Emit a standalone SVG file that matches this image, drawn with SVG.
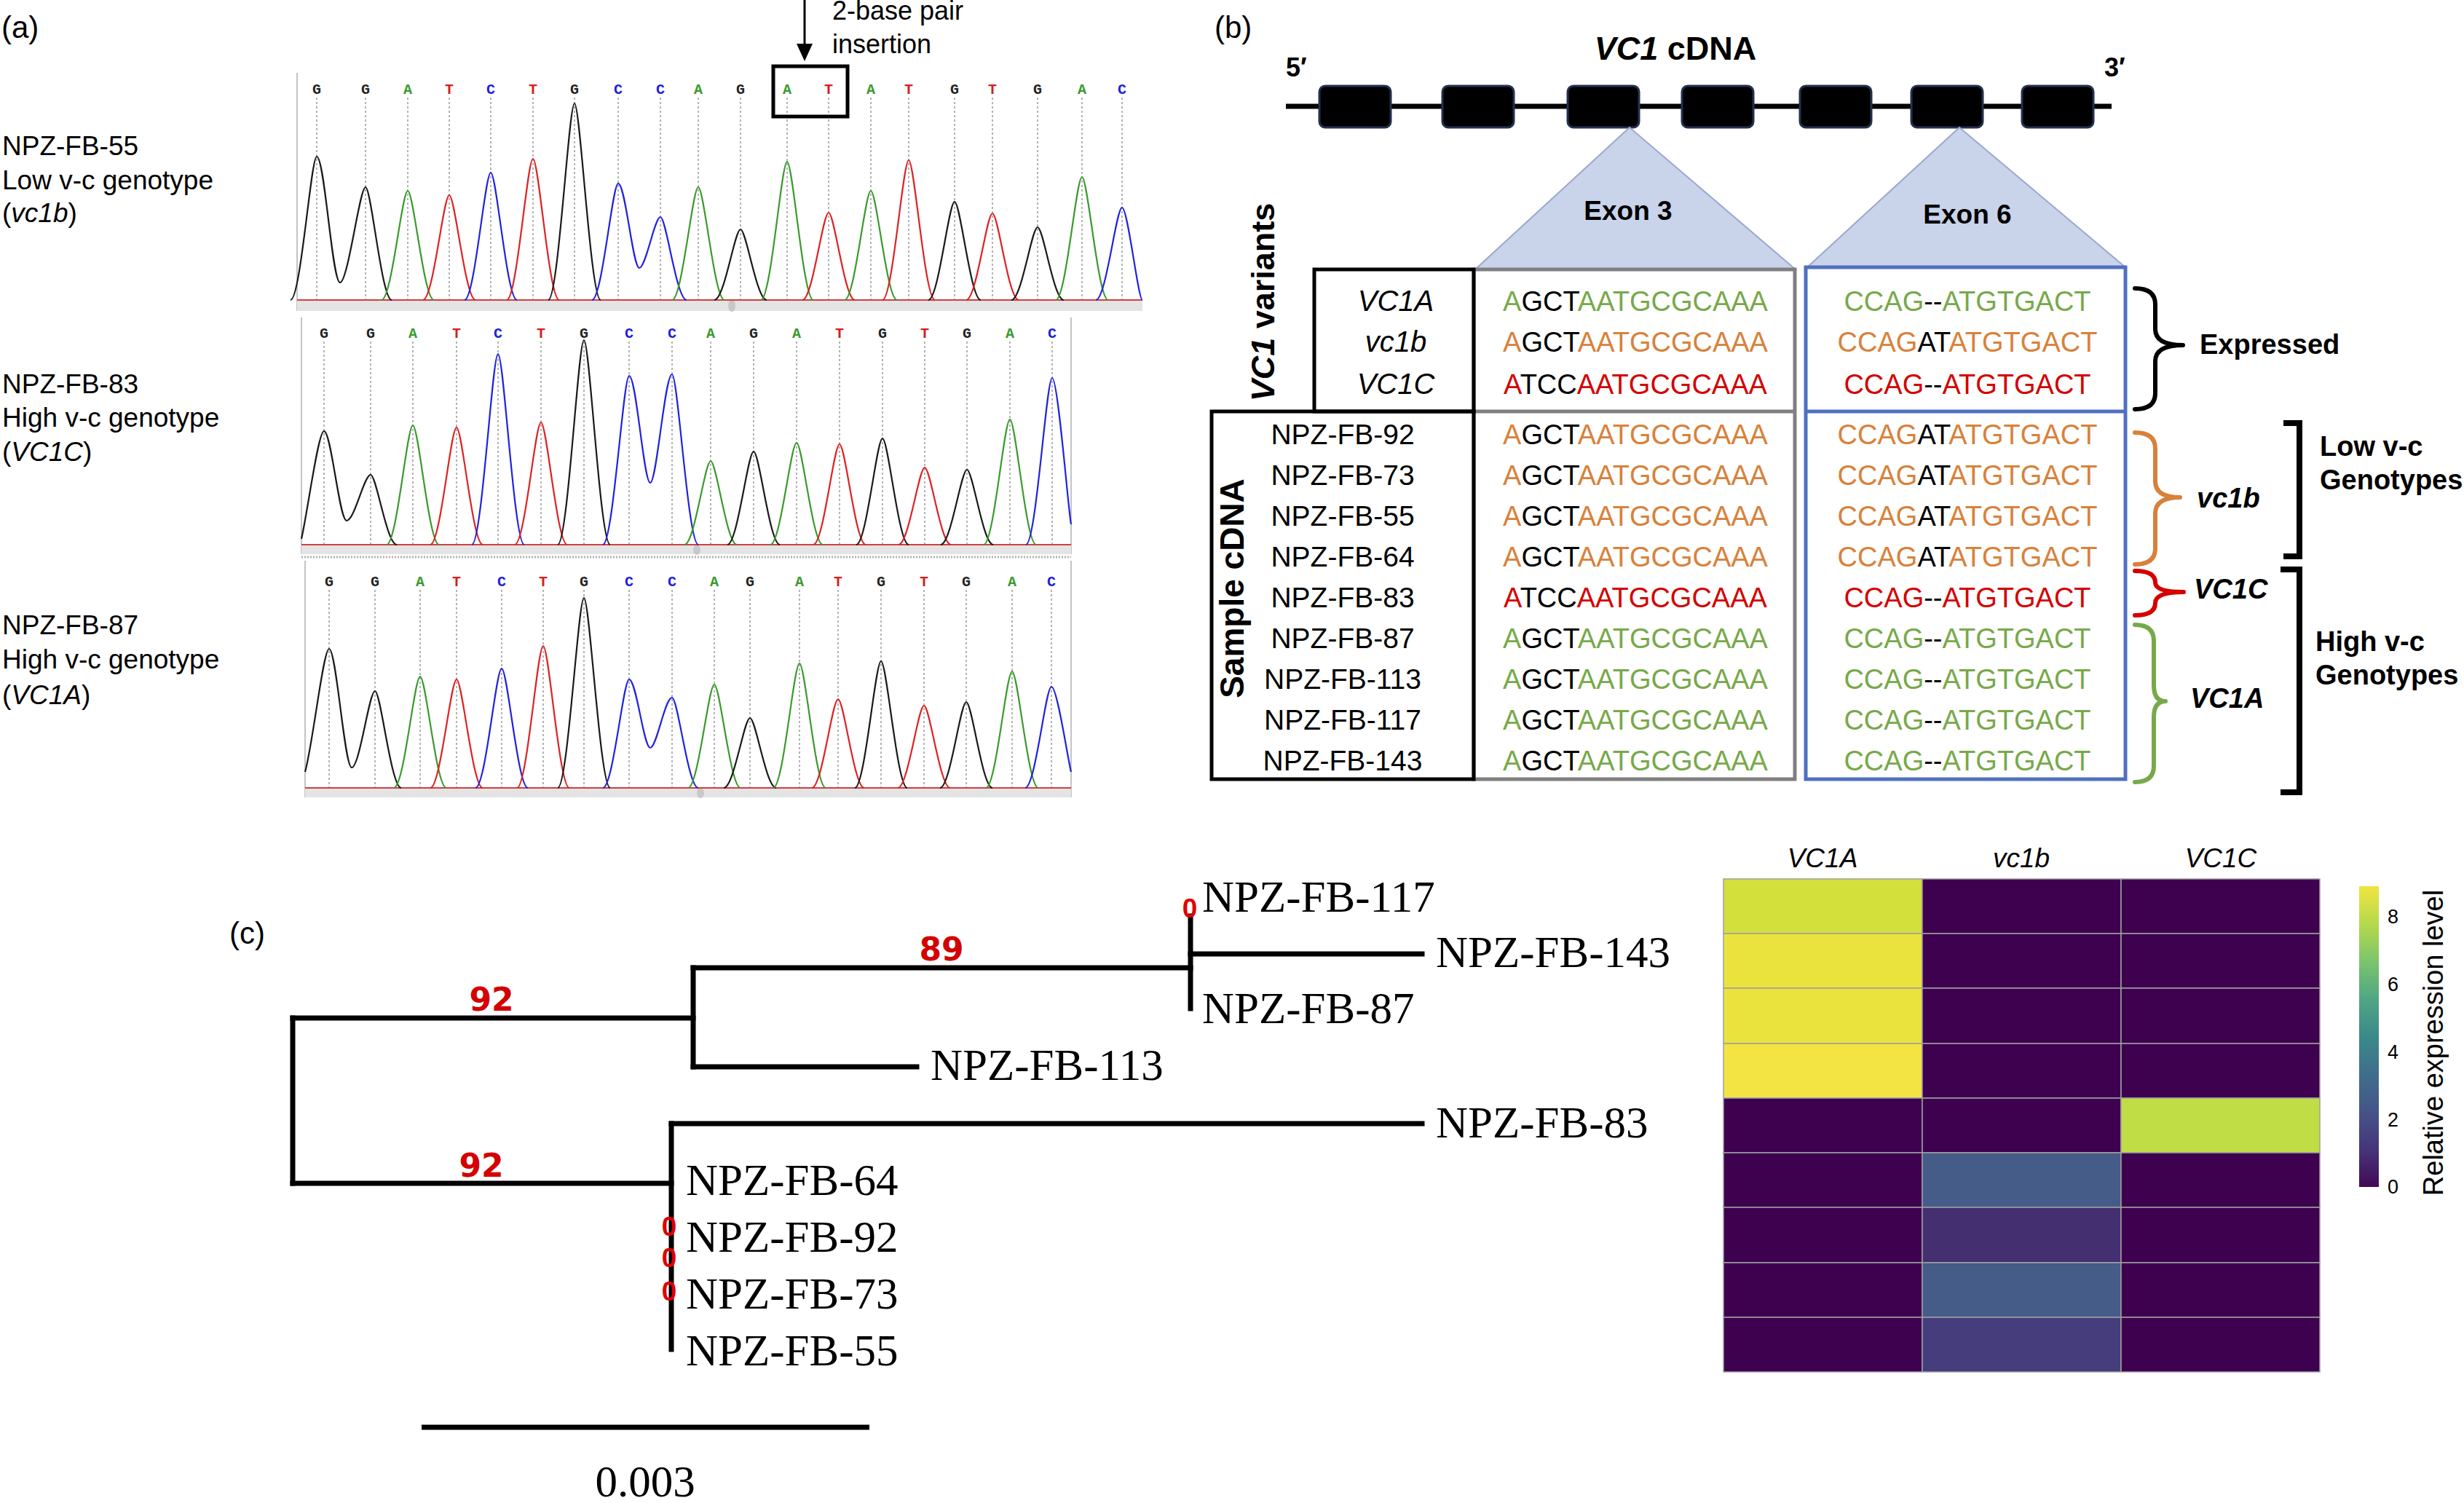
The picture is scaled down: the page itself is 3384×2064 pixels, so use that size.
<svg xmlns="http://www.w3.org/2000/svg" width="3384" height="2064" viewBox="0 0 3384 2064">
<style>
.sans{font-family:"Liberation Sans",Arial,sans-serif}
.lab{font-family:"Liberation Sans",Arial,sans-serif;font-size:37px;fill:#000}
.pl{font-family:"Liberation Sans",Arial,sans-serif;font-size:42px;fill:#000}
.base{font-family:"Liberation Mono","Courier New",monospace;font-weight:bold;font-size:20px;text-anchor:middle}
.bG{fill:#222}.bA{fill:#3a9a2e}.bT{fill:#d42020}.bC{fill:#2020d8}
.tr{fill:none;stroke-width:2.2;stroke-linejoin:round}
.tG{stroke:#1a1a1a}.tA{stroke:#3a9a2e}.tT{stroke:#dd2222}.tC{stroke:#2222dd}
.dash{stroke:#9a9a9a;stroke-width:1.5;stroke-dasharray:3,3}
.frame{stroke:#b0b0b0;stroke-width:1.5}
.bar{fill:#e4e4e4}
.seq{font-family:"Liberation Sans",Arial,sans-serif;font-size:38px;text-anchor:middle}
.g{fill:#77a94a}.o{fill:#d8813a}.r{fill:#d40000}.k{fill:#000}
.nm{font-family:"Liberation Sans",Arial,sans-serif;font-size:39px;text-anchor:middle}
.vn{font-family:"Liberation Sans",Arial,sans-serif;font-size:40px;font-style:italic;text-anchor:middle}
.bl{font-family:"Liberation Sans",Arial,sans-serif;font-size:38px;font-weight:bold}
.brace{fill:none;stroke-width:6;stroke-linecap:round;stroke-linejoin:round}
.tl{font-family:"Liberation Serif","Times New Roman",serif;font-size:61px;fill:#000}
.bs{font-family:"DejaVu Sans",sans-serif;font-weight:bold;font-size:44px;fill:#d40000;text-anchor:middle}
.zero{font-family:"Liberation Sans",Arial,sans-serif;font-weight:bold;font-size:37px;fill:#e00000;text-anchor:middle}
.br{fill:none;stroke:#000;stroke-width:7;stroke-linecap:square}
.D{fill:#3e014f}
.cell{stroke:#a0a0a0;stroke-width:1.5}
</style>
<defs>
<linearGradient id="vir" x1="0" y1="1" x2="0" y2="0">
<stop offset="0" stop-color="#420a55"/>
<stop offset="0.125" stop-color="#46357a"/>
<stop offset="0.25" stop-color="#455488"/>
<stop offset="0.375" stop-color="#3f6e8b"/>
<stop offset="0.5" stop-color="#3a8a8a"/>
<stop offset="0.625" stop-color="#4fa684"/>
<stop offset="0.75" stop-color="#7cc46c"/>
<stop offset="0.875" stop-color="#b5d94a"/>
<stop offset="1" stop-color="#f0e442"/>
</linearGradient>
</defs>
<rect width="3384" height="2064" fill="#fff"/>

<!-- Panel a -->
<g id="panel-a">
<text class="pl" x="2" y="52">(a)</text>
<g id="insertion-arrow">
<line x1="1105" y1="0" x2="1105" y2="64" stroke="#000" stroke-width="3"/>
<polygon points="1094,60 1116,60 1105,84" fill="#000"/>
<text class="sans" x="1143" y="27" font-size="36">2-base pair</text>
<text class="sans" x="1143" y="73" font-size="36">insertion</text>
</g>

<g id="chrom-1">
<text class="lab" x="3" y="213">NPZ-FB-55</text>
<text class="lab" x="3" y="260">Low v-c genotype</text>
<text class="lab" x="3" y="305">(<tspan font-style="italic">vc1b</tspan>)</text>
<line class="frame" x1="408" y1="100" x2="408" y2="427"/>
<rect class="bar" x="408" y="413" width="1161" height="14"/>
<ellipse cx="1005" cy="420" rx="5" ry="8" fill="#c8c8c8"/>
<g>
<line class="dash" x1="435" y1="134" x2="435" y2="412"/><line class="dash" x1="502" y1="134" x2="502" y2="412"/><line class="dash" x1="560" y1="134" x2="560" y2="412"/><line class="dash" x1="617" y1="134" x2="617" y2="412"/><line class="dash" x1="674" y1="134" x2="674" y2="412"/><line class="dash" x1="732" y1="134" x2="732" y2="412"/><line class="dash" x1="789" y1="134" x2="789" y2="412"/><line class="dash" x1="849" y1="134" x2="849" y2="412"/><line class="dash" x1="907" y1="134" x2="907" y2="412"/><line class="dash" x1="959" y1="134" x2="959" y2="412"/><line class="dash" x1="1017" y1="134" x2="1017" y2="412"/><line class="dash" x1="1081" y1="134" x2="1081" y2="412"/><line class="dash" x1="1138" y1="134" x2="1138" y2="412"/><line class="dash" x1="1196" y1="134" x2="1196" y2="412"/><line class="dash" x1="1248" y1="134" x2="1248" y2="412"/><line class="dash" x1="1311" y1="134" x2="1311" y2="412"/><line class="dash" x1="1363" y1="134" x2="1363" y2="412"/><line class="dash" x1="1425" y1="134" x2="1425" y2="412"/><line class="dash" x1="1486" y1="134" x2="1486" y2="412"/><line class="dash" x1="1541" y1="134" x2="1541" y2="412"/>
</g>
<g>
<text class="base bG" x="435" y="129">G</text><text class="base bG" x="502" y="129">G</text><text class="base bA" x="560" y="129">A</text><text class="base bT" x="617" y="129">T</text><text class="base bC" x="674" y="129">C</text><text class="base bT" x="732" y="129">T</text><text class="base bG" x="789" y="129">G</text><text class="base bC" x="849" y="129">C</text><text class="base bC" x="907" y="129">C</text><text class="base bA" x="959" y="129">A</text><text class="base bG" x="1017" y="129">G</text><text class="base bA" x="1081" y="129">A</text><text class="base bT" x="1138" y="129">T</text><text class="base bA" x="1196" y="129">A</text><text class="base bT" x="1248" y="129">T</text><text class="base bG" x="1311" y="129">G</text><text class="base bT" x="1363" y="129">T</text><text class="base bG" x="1425" y="129">G</text><text class="base bA" x="1486" y="129">A</text><text class="base bC" x="1541" y="129">C</text>
</g>
<line x1="408" y1="412" x2="1569" y2="412" stroke="#d04040" stroke-width="2"/>
<g>
<path class="tr tG" d="M399,412 C413,412 427,215 435,215 C446,215 456,388 467,388 C478,388 494,257 502,257 C510,257 524,412 538,412"/>
<path class="tr tA" d="M524,412 C538,412 552,262 560,262 C568,262 582,412 596,412"/>
<path class="tr tT" d="M581,412 C595,412 609,268 617,268 C625,268 639,412 653,412"/>
<path class="tr tC" d="M638,412 C652,412 666,237 674,237 C682,237 696,412 710,412"/>
<path class="tr tT" d="M696,412 C710,412 724,218 732,218 C740,218 754,412 768,412"/>
<path class="tr tG" d="M753,412 C767,412 781,142 789,142 C797,142 811,412 825,412"/>
<path class="tr tC" d="M813,412 C827,412 841,252 849,252 C859,252 869,368 878,368 C887,368 899,298 907,298 C915,298 929,412 943,412"/>
<path class="tr tA" d="M923,412 C937,412 951,257 959,257 C967,257 981,412 995,412"/>
<path class="tr tG" d="M981,412 C995,412 1009,315 1017,315 C1025,315 1039,412 1053,412"/>
<path class="tr tA" d="M1045,412 C1059,412 1073,222 1081,222 C1089,222 1103,412 1117,412"/>
<path class="tr tT" d="M1102,412 C1116,412 1130,292 1138,292 C1146,292 1160,412 1174,412"/>
<path class="tr tA" d="M1160,412 C1174,412 1188,262 1196,262 C1204,262 1218,412 1232,412"/>
<path class="tr tT" d="M1212,412 C1226,412 1240,220 1248,220 C1256,220 1270,412 1284,412"/>
<path class="tr tG" d="M1275,412 C1289,412 1303,277 1311,277 C1319,277 1333,412 1347,412"/>
<path class="tr tT" d="M1327,412 C1341,412 1355,293 1363,293 C1371,293 1385,412 1399,412"/>
<path class="tr tG" d="M1389,412 C1403,412 1417,312 1425,312 C1433,312 1447,412 1461,412"/>
<path class="tr tA" d="M1450,412 C1464,412 1478,243 1486,243 C1494,243 1508,412 1522,412"/>
<path class="tr tC" d="M1505,412 C1519,412 1533,285 1541,285 C1549,285 1563,412 1569,412"/>
</g>
<rect x="1062" y="91" width="102" height="69" fill="none" stroke="#000" stroke-width="5"/>
</g>

<g id="chrom-2">
<text class="lab" x="3" y="540">NPZ-FB-83</text>
<text class="lab" x="3" y="586">High v-c genotype</text>
<text class="lab" x="3" y="633">(<tspan font-style="italic">VC1C</tspan>)</text>
<line class="frame" x1="414" y1="436" x2="414" y2="761"/>
<line class="frame" x1="1471" y1="436" x2="1471" y2="761"/>
<rect class="bar" x="414" y="749" width="1057" height="12"/>
<line x1="414" y1="765" x2="1471" y2="765" stroke="#b0b0b0" stroke-width="3" stroke-dasharray="2,2"/>
<ellipse cx="957" cy="755" rx="5" ry="7" fill="#c8c8c8"/>
<g>
<line class="dash" x1="445" y1="469" x2="445" y2="748"/><line class="dash" x1="509" y1="469" x2="509" y2="748"/><line class="dash" x1="567" y1="469" x2="567" y2="748"/><line class="dash" x1="627" y1="469" x2="627" y2="748"/><line class="dash" x1="684" y1="469" x2="684" y2="748"/><line class="dash" x1="743" y1="469" x2="743" y2="748"/><line class="dash" x1="802" y1="469" x2="802" y2="748"/><line class="dash" x1="864" y1="469" x2="864" y2="748"/><line class="dash" x1="923" y1="469" x2="923" y2="748"/><line class="dash" x1="976" y1="469" x2="976" y2="748"/><line class="dash" x1="1035" y1="469" x2="1035" y2="748"/><line class="dash" x1="1094" y1="469" x2="1094" y2="748"/><line class="dash" x1="1153" y1="469" x2="1153" y2="748"/><line class="dash" x1="1212" y1="469" x2="1212" y2="748"/><line class="dash" x1="1270" y1="469" x2="1270" y2="748"/><line class="dash" x1="1328" y1="469" x2="1328" y2="748"/><line class="dash" x1="1387" y1="469" x2="1387" y2="748"/><line class="dash" x1="1445" y1="469" x2="1445" y2="748"/>
</g>
<g>
<text class="base bG" x="445" y="464">G</text><text class="base bG" x="509" y="464">G</text><text class="base bA" x="567" y="464">A</text><text class="base bT" x="627" y="464">T</text><text class="base bC" x="684" y="464">C</text><text class="base bT" x="743" y="464">T</text><text class="base bG" x="802" y="464">G</text><text class="base bC" x="864" y="464">C</text><text class="base bC" x="923" y="464">C</text><text class="base bA" x="976" y="464">A</text><text class="base bG" x="1035" y="464">G</text><text class="base bA" x="1094" y="464">A</text><text class="base bT" x="1153" y="464">T</text><text class="base bG" x="1212" y="464">G</text><text class="base bT" x="1270" y="464">T</text><text class="base bG" x="1328" y="464">G</text><text class="base bA" x="1387" y="464">A</text><text class="base bC" x="1445" y="464">C</text>
</g>
<line x1="414" y1="748" x2="1471" y2="748" stroke="#d04040" stroke-width="2"/>
<g>
<path class="tr tG" d="M414,740 C423,700 437,592 445,592 C455,592 466,715 476,715 C487,715 500,652 509,652 C517,652 531,748 545,748"/>
<path class="tr tA" d="M531,748 C545,748 559,584 567,584 C575,584 589,748 603,748"/>
<path class="tr tT" d="M591,748 C605,748 619,587 627,587 C635,587 649,748 663,748"/>
<path class="tr tC" d="M648,748 C662,748 676,486 684,486 C692,486 706,748 720,748"/>
<path class="tr tT" d="M707,748 C721,748 735,580 743,580 C751,580 765,748 779,748"/>
<path class="tr tG" d="M766,748 C780,748 794,467 802,467 C810,467 824,748 838,748"/>
<path class="tr tC" d="M828,748 C842,748 856,516 864,516 C874,516 884,663 893,663 C902,663 913,514 923,514 C931,514 945,748 959,748"/>
<path class="tr tA" d="M940,748 C954,748 968,633 976,633 C984,633 998,748 1012,748"/>
<path class="tr tG" d="M999,748 C1013,748 1027,620 1035,620 C1043,620 1057,748 1071,748"/>
<path class="tr tA" d="M1058,748 C1072,748 1086,608 1094,608 C1102,608 1116,748 1130,748"/>
<path class="tr tT" d="M1117,748 C1131,748 1145,610 1153,610 C1161,610 1175,748 1189,748"/>
<path class="tr tG" d="M1176,748 C1190,748 1204,602 1212,602 C1220,602 1234,748 1248,748"/>
<path class="tr tT" d="M1234,748 C1248,748 1262,642 1270,642 C1278,642 1292,748 1306,748"/>
<path class="tr tG" d="M1292,748 C1306,748 1320,645 1328,645 C1336,645 1350,748 1364,748"/>
<path class="tr tA" d="M1351,748 C1365,748 1379,576 1387,576 C1395,576 1409,748 1423,748"/>
<path class="tr tC" d="M1409,748 C1423,748 1437,519 1445,519 C1453,519 1467,700 1471,720"/>
</g>
</g>

<g id="chrom-3">
<text class="lab" x="3" y="871">NPZ-FB-87</text>
<text class="lab" x="3" y="918">High v-c genotype</text>
<text class="lab" x="3" y="967">(<tspan font-style="italic">VC1A</tspan>)</text>
<line class="frame" x1="419" y1="770" x2="419" y2="1095"/>
<line class="frame" x1="1471" y1="770" x2="1471" y2="1095"/>
<rect class="bar" x="419" y="1083" width="1052" height="12"/>
<ellipse cx="962" cy="1089" rx="5" ry="7" fill="#c8c8c8"/>
<g>
<line class="dash" x1="452" y1="810" x2="452" y2="1082"/><line class="dash" x1="515" y1="810" x2="515" y2="1082"/><line class="dash" x1="577" y1="810" x2="577" y2="1082"/><line class="dash" x1="627" y1="810" x2="627" y2="1082"/><line class="dash" x1="689" y1="810" x2="689" y2="1082"/><line class="dash" x1="746" y1="810" x2="746" y2="1082"/><line class="dash" x1="802" y1="810" x2="802" y2="1082"/><line class="dash" x1="864" y1="810" x2="864" y2="1082"/><line class="dash" x1="923" y1="810" x2="923" y2="1082"/><line class="dash" x1="981" y1="810" x2="981" y2="1082"/><line class="dash" x1="1030" y1="810" x2="1030" y2="1082"/><line class="dash" x1="1098" y1="810" x2="1098" y2="1082"/><line class="dash" x1="1151" y1="810" x2="1151" y2="1082"/><line class="dash" x1="1210" y1="810" x2="1210" y2="1082"/><line class="dash" x1="1269" y1="810" x2="1269" y2="1082"/><line class="dash" x1="1327" y1="810" x2="1327" y2="1082"/><line class="dash" x1="1390" y1="810" x2="1390" y2="1082"/><line class="dash" x1="1444" y1="810" x2="1444" y2="1082"/>
</g>
<g>
<text class="base bG" x="452" y="805">G</text><text class="base bG" x="515" y="805">G</text><text class="base bA" x="577" y="805">A</text><text class="base bT" x="627" y="805">T</text><text class="base bC" x="689" y="805">C</text><text class="base bT" x="746" y="805">T</text><text class="base bG" x="802" y="805">G</text><text class="base bC" x="864" y="805">C</text><text class="base bC" x="923" y="805">C</text><text class="base bA" x="981" y="805">A</text><text class="base bG" x="1030" y="805">G</text><text class="base bA" x="1098" y="805">A</text><text class="base bT" x="1151" y="805">T</text><text class="base bG" x="1210" y="805">G</text><text class="base bT" x="1269" y="805">T</text><text class="base bG" x="1327" y="805">G</text><text class="base bA" x="1390" y="805">A</text><text class="base bC" x="1444" y="805">C</text>
</g>
<line x1="419" y1="1082" x2="1471" y2="1082" stroke="#d04040" stroke-width="2"/>
<g>
<path class="tr tG" d="M419,1060 C430,1020 444,891 452,891 C462,891 473,1054 483,1054 C494,1054 507,949 515,949 C523,949 537,1082 551,1082"/>
<path class="tr tA" d="M541,1082 C555,1082 569,929 577,929 C585,929 599,1082 613,1082"/>
<path class="tr tT" d="M591,1082 C605,1082 619,933 627,933 C635,933 649,1082 663,1082"/>
<path class="tr tC" d="M653,1082 C667,1082 681,918 689,918 C697,918 711,1082 725,1082"/>
<path class="tr tT" d="M710,1082 C724,1082 738,887 746,887 C754,887 768,1082 782,1082"/>
<path class="tr tG" d="M766,1082 C780,1082 794,821 802,821 C810,821 824,1082 838,1082"/>
<path class="tr tC" d="M828,1082 C842,1082 856,933 864,933 C874,933 884,1027 893,1027 C902,1027 913,958 923,958 C931,958 945,1082 959,1082"/>
<path class="tr tA" d="M945,1082 C959,1082 973,940 981,940 C989,940 1003,1082 1017,1082"/>
<path class="tr tG" d="M994,1082 C1008,1082 1022,986 1030,986 C1038,986 1052,1082 1066,1082"/>
<path class="tr tA" d="M1062,1082 C1076,1082 1090,911 1098,911 C1106,911 1120,1082 1134,1082"/>
<path class="tr tT" d="M1115,1082 C1129,1082 1143,960 1151,960 C1159,960 1173,1082 1187,1082"/>
<path class="tr tG" d="M1174,1082 C1188,1082 1202,908 1210,908 C1218,908 1232,1082 1246,1082"/>
<path class="tr tT" d="M1233,1082 C1247,1082 1261,969 1269,969 C1277,969 1291,1082 1305,1082"/>
<path class="tr tG" d="M1291,1082 C1305,1082 1319,964 1327,964 C1335,964 1349,1082 1363,1082"/>
<path class="tr tA" d="M1354,1082 C1368,1082 1382,922 1390,922 C1398,922 1412,1082 1426,1082"/>
<path class="tr tC" d="M1408,1082 C1422,1082 1436,943 1444,943 C1452,943 1466,1040 1471,1060"/>
</g>
</g>
</g>

<!-- Panel b -->
<g id="panel-b">
<text class="pl" x="1668" y="52">(b)</text>
<g id="gene-model">
<text class="sans" x="2301" y="82" font-size="45" font-weight="bold" text-anchor="middle"><tspan font-style="italic">VC1</tspan> cDNA</text>
<text class="sans" x="1766" y="105" font-size="36" font-weight="bold">5′</text>
<text class="sans" x="2890" y="105" font-size="36" font-weight="bold">3′</text>
<line x1="1766" y1="146" x2="2900" y2="146" stroke="#000" stroke-width="7"/>
<g fill="#000" stroke="#243050" stroke-width="3">
<rect x="1812" y="118" width="98" height="57" rx="8"/>
<rect x="1981" y="118" width="98" height="57" rx="8"/>
<rect x="2153" y="118" width="98" height="57" rx="8"/>
<rect x="2310" y="118" width="98" height="57" rx="8"/>
<rect x="2472" y="118" width="98" height="57" rx="8"/>
<rect x="2625" y="118" width="98" height="57" rx="8"/>
<rect x="2777" y="118" width="98" height="57" rx="8"/>
</g>
</g>
<g id="exon3-zoom">
<polygon points="2238,175 2026,370 2466,370" fill="#c9d3ea" stroke="#9aa8cc" stroke-width="2"/>
<text class="sans" x="2236" y="302" font-size="37" font-weight="bold" text-anchor="middle">Exon 3</text>
</g>
<g id="exon6-zoom">
<polygon points="2691,175 2482,367 2919,367" fill="#c9d3ea" stroke="#9aa8cc" stroke-width="2"/>
<text class="sans" x="2702" y="307" font-size="37" font-weight="bold" text-anchor="middle">Exon 6</text>
</g>

<g id="alignment-table">
<rect x="2024" y="370" width="441" height="700" fill="none" stroke="#7f7f7f" stroke-width="5"/>
<line x1="2024" y1="565" x2="2465" y2="565" stroke="#7f7f7f" stroke-width="5"/>
<rect x="2480" y="367" width="439" height="703" fill="none" stroke="#5070c0" stroke-width="5"/>
<line x1="2480" y1="565" x2="2919" y2="565" stroke="#5070c0" stroke-width="5"/>
<rect x="1805" y="370" width="219" height="195" fill="none" stroke="#000" stroke-width="5"/>
<rect x="1664" y="565" width="360" height="505" fill="none" stroke="#000" stroke-width="5"/>
<text class="sans" transform="translate(1750,415) rotate(-90)" font-size="45" font-weight="bold" text-anchor="middle"><tspan font-style="italic">VC1</tspan> variants</text>
<text class="sans" transform="translate(1708,808) rotate(-90)" font-size="46" font-weight="bold" text-anchor="middle">Sample cDNA</text>

<text class="vn" x="1917" y="427">VC1A</text>
<text class="vn" x="1917" y="483">vc1b</text>
<text class="vn" x="1917" y="541">VC1C</text>
<text class="seq" x="2246" y="427"><tspan class="g">A</tspan><tspan class="k">GCT</tspan><tspan class="g">AATGCGCAAA</tspan></text>
<text class="seq" x="2246" y="483"><tspan class="o">A</tspan><tspan class="k">GCT</tspan><tspan class="o">AATGCGCAAA</tspan></text>
<text class="seq" x="2246" y="541"><tspan class="r">A</tspan><tspan class="k">TCC</tspan><tspan class="r">AATGCGCAAA</tspan></text>
<text class="seq" x="2702" y="427"><tspan class="g">CCAG</tspan><tspan class="k">--</tspan><tspan class="g">ATGTGACT</tspan></text>
<text class="seq" x="2702" y="483"><tspan class="o">CCAG</tspan><tspan class="k">AT</tspan><tspan class="o">ATGTGACT</tspan></text>
<text class="seq" x="2702" y="541"><tspan class="r">CCAG</tspan><tspan class="k">--</tspan><tspan class="r">ATGTGACT</tspan></text>

<text class="nm" x="1844" y="610">NPZ-FB-92</text>
<text class="nm" x="1844" y="666">NPZ-FB-73</text>
<text class="nm" x="1844" y="722">NPZ-FB-55</text>
<text class="nm" x="1844" y="778">NPZ-FB-64</text>
<text class="nm" x="1844" y="834">NPZ-FB-83</text>
<text class="nm" x="1844" y="890">NPZ-FB-87</text>
<text class="nm" x="1844" y="946">NPZ-FB-113</text>
<text class="nm" x="1844" y="1002">NPZ-FB-117</text>
<text class="nm" x="1844" y="1058">NPZ-FB-143</text>

<text class="seq" x="2246" y="610"><tspan class="o">A</tspan><tspan class="k">GCT</tspan><tspan class="o">AATGCGCAAA</tspan></text>
<text class="seq" x="2246" y="666"><tspan class="o">A</tspan><tspan class="k">GCT</tspan><tspan class="o">AATGCGCAAA</tspan></text>
<text class="seq" x="2246" y="722"><tspan class="o">A</tspan><tspan class="k">GCT</tspan><tspan class="o">AATGCGCAAA</tspan></text>
<text class="seq" x="2246" y="778"><tspan class="o">A</tspan><tspan class="k">GCT</tspan><tspan class="o">AATGCGCAAA</tspan></text>
<text class="seq" x="2246" y="834"><tspan class="r">A</tspan><tspan class="k">TCC</tspan><tspan class="r">AATGCGCAAA</tspan></text>
<text class="seq" x="2246" y="890"><tspan class="g">A</tspan><tspan class="k">GCT</tspan><tspan class="g">AATGCGCAAA</tspan></text>
<text class="seq" x="2246" y="946"><tspan class="g">A</tspan><tspan class="k">GCT</tspan><tspan class="g">AATGCGCAAA</tspan></text>
<text class="seq" x="2246" y="1002"><tspan class="g">A</tspan><tspan class="k">GCT</tspan><tspan class="g">AATGCGCAAA</tspan></text>
<text class="seq" x="2246" y="1058"><tspan class="g">A</tspan><tspan class="k">GCT</tspan><tspan class="g">AATGCGCAAA</tspan></text>

<text class="seq" x="2702" y="610"><tspan class="o">CCAG</tspan><tspan class="k">AT</tspan><tspan class="o">ATGTGACT</tspan></text>
<text class="seq" x="2702" y="666"><tspan class="o">CCAG</tspan><tspan class="k">AT</tspan><tspan class="o">ATGTGACT</tspan></text>
<text class="seq" x="2702" y="722"><tspan class="o">CCAG</tspan><tspan class="k">AT</tspan><tspan class="o">ATGTGACT</tspan></text>
<text class="seq" x="2702" y="778"><tspan class="o">CCAG</tspan><tspan class="k">AT</tspan><tspan class="o">ATGTGACT</tspan></text>
<text class="seq" x="2702" y="834"><tspan class="r">CCAG</tspan><tspan class="k">--</tspan><tspan class="r">ATGTGACT</tspan></text>
<text class="seq" x="2702" y="890"><tspan class="g">CCAG</tspan><tspan class="k">--</tspan><tspan class="g">ATGTGACT</tspan></text>
<text class="seq" x="2702" y="946"><tspan class="g">CCAG</tspan><tspan class="k">--</tspan><tspan class="g">ATGTGACT</tspan></text>
<text class="seq" x="2702" y="1002"><tspan class="g">CCAG</tspan><tspan class="k">--</tspan><tspan class="g">ATGTGACT</tspan></text>
<text class="seq" x="2702" y="1058"><tspan class="g">CCAG</tspan><tspan class="k">--</tspan><tspan class="g">ATGTGACT</tspan></text>
</g>

<g id="groupings">
<path class="brace" stroke="#000" d="M2932,396 Q2960,396 2960,418 V452 Q2960,474 2998,474 Q2960,474 2960,496 V540 Q2960,562 2932,562"/>
<text class="bl" x="3021" y="486">Expressed</text>
<path class="brace" stroke="#d8813a" d="M2932,594 Q2960,594 2960,616 V661 Q2960,683 2994,683 Q2960,683 2960,705 V753 Q2960,775 2932,775"/>
<text class="bl" x="3017" y="697" font-style="italic">vc1b</text>
<path class="brace" stroke="#d40000" d="M2932,784 Q2960,784 2960,800 Q2960,813 2999,813 Q2960,813 2960,828 Q2960,845 2932,845"/>
<text class="bl" x="3013" y="822" font-style="italic">VC1C</text>
<path class="brace" stroke="#77a94a" stroke-width="5" d="M2932,858 Q2958,858 2958,880 V941 Q2958,963 2974,963 Q2958,963 2958,985 V1052 Q2958,1074 2932,1074"/>
<text class="bl" x="3008" y="972" font-style="italic">VC1A</text>
<path d="M3136,581 H3158 V764 H3136" fill="none" stroke="#000" stroke-width="8"/>
<text class="bl" x="3186" y="626">Low v-c</text>
<text class="bl" x="3186" y="672">Genotypes</text>
<path d="M3132,782 H3158 V1088 H3132" fill="none" stroke="#000" stroke-width="8"/>
<text class="bl" x="3180" y="894">High v-c</text>
<text class="bl" x="3180" y="940">Genotypes</text>
</g>
</g>

<!-- Panel c -->
<g id="panel-c">
<text class="pl" x="315" y="1296" font-size="40">(c)</text>
<g id="connectors">
<path class="br" d="M402,1398 V1625"/>
<path class="br" d="M402,1398 H952"/>
<path class="br" d="M402,1625 H922"/>
<path class="br" d="M952,1329 V1465"/>
<path class="br" d="M952,1329 H1635"/>
<path class="br" d="M952,1465 H1259"/>
<path class="br" d="M1635,1258 V1385"/>
<path class="br" d="M1635,1310 H1953"/>
<path class="br" d="M922,1543 V1853"/>
<path class="br" d="M922,1543 H1953"/>
</g>
<g id="bootstrap">
<text class="bs" x="675" y="1388">92</text>
<text class="bs" x="661" y="1616">92</text>
<text class="bs" x="1293" y="1319">89</text>
<text class="zero" x="1634" y="1260">0</text>
<text class="zero" x="919" y="1697">0</text>
<text class="zero" x="919" y="1740">0</text>
<text class="zero" x="919" y="1786">0</text>
</g>
<g id="leaf-117"><text class="tl" x="1651" y="1252">NPZ-FB-117</text></g>
<g id="leaf-143"><text class="tl" x="1972" y="1328">NPZ-FB-143</text></g>
<g id="leaf-87"><text class="tl" x="1651" y="1405">NPZ-FB-87</text></g>
<g id="leaf-113"><text class="tl" x="1278" y="1483">NPZ-FB-113</text></g>
<g id="leaf-83"><text class="tl" x="1972" y="1562">NPZ-FB-83</text></g>
<g id="leaf-64"><text class="tl" x="942" y="1641">NPZ-FB-64</text></g>
<g id="leaf-92"><text class="tl" x="942" y="1719">NPZ-FB-92</text></g>
<g id="leaf-73"><text class="tl" x="942" y="1797">NPZ-FB-73</text></g>
<g id="leaf-55"><text class="tl" x="942" y="1875">NPZ-FB-55</text></g>
<g id="scale-bar">
<line x1="579" y1="1960" x2="1194" y2="1960" stroke="#000" stroke-width="7"/>
<text class="tl" x="886" y="2055" font-size="58" text-anchor="middle">0.003</text>
</g>
</g>

<g id="heatmap">
<text class="sans" x="2503" y="1191" font-size="37" font-style="italic" text-anchor="middle">VC1A</text>
<text class="sans" x="2776" y="1191" font-size="37" font-style="italic" text-anchor="middle">vc1b</text>
<text class="sans" x="3050" y="1191" font-size="37" font-style="italic" text-anchor="middle">VC1C</text>
<g class="cell">
<rect x="2367" y="1207" width="273" height="75" fill="#d3e03b"/><rect class="D" x="2640" y="1207" width="273" height="75"/><rect class="D" x="2913" y="1207" width="273" height="75"/>
<rect x="2367" y="1282" width="273" height="75" fill="#ebe33d"/><rect class="D" x="2640" y="1282" width="273" height="75"/><rect class="D" x="2913" y="1282" width="273" height="75"/>
<rect x="2367" y="1357" width="273" height="76" fill="#ebe33d"/><rect class="D" x="2640" y="1357" width="273" height="76"/><rect class="D" x="2913" y="1357" width="273" height="76"/>
<rect x="2367" y="1433" width="273" height="75" fill="#f3e443"/><rect class="D" x="2640" y="1433" width="273" height="75"/><rect class="D" x="2913" y="1433" width="273" height="75"/>
<rect class="D" x="2367" y="1508" width="273" height="75"/><rect class="D" x="2640" y="1508" width="273" height="75"/><rect x="2913" y="1508" width="273" height="75" fill="#c1dd45"/>
<rect class="D" x="2367" y="1583" width="273" height="75"/><rect x="2640" y="1583" width="273" height="75" fill="#455c89"/><rect class="D" x="2913" y="1583" width="273" height="75"/>
<rect class="D" x="2367" y="1658" width="273" height="76"/><rect x="2640" y="1658" width="273" height="76" fill="#442f70"/><rect class="D" x="2913" y="1658" width="273" height="76"/>
<rect class="D" x="2367" y="1734" width="273" height="75"/><rect x="2640" y="1734" width="273" height="75" fill="#455b88"/><rect class="D" x="2913" y="1734" width="273" height="75"/>
<rect class="D" x="2367" y="1809" width="273" height="75"/><rect x="2640" y="1809" width="273" height="75" fill="#453d7c"/><rect class="D" x="2913" y="1809" width="273" height="75"/>
</g>
<g id="colorbar">
<rect x="3240" y="1217" width="27" height="413" fill="url(#vir)"/>
<g class="sans" font-size="27">
<text x="3279" y="1268">8</text>
<text x="3279" y="1361">6</text>
<text x="3279" y="1454">4</text>
<text x="3279" y="1547">2</text>
<text x="3279" y="1639">0</text>
</g>
<text class="sans" transform="translate(3355,1432) rotate(-90)" font-size="38" text-anchor="middle">Relative expression level</text>
</g>
</g>
</svg>
